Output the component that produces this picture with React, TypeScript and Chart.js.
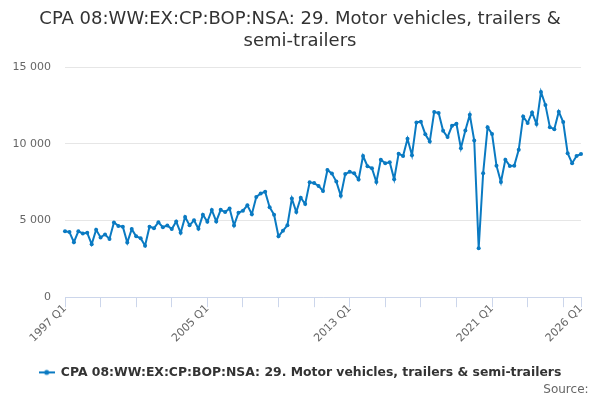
import { useEffect, useRef } from 'react';
import Chart from 'chart.js/auto';

// quarterly categories, 1997 Q1 .. 2026 Q1
const firstYear = 1997;
const quarterCount = 117;
const quarters: string[] = [];
for (let i = 0; i < quarterCount; i++) {
  quarters.push(`${firstYear + Math.floor(i / 4)} Q${(i % 4) + 1}`);
}

// values (£ million)
const exportValues = [
  4300, 4250, 3590, 4300, 4160, 4200, 3450, 4400, 3900, 4090,
  3800, 4870, 4650, 4600, 3560, 4440, 3970, 3850, 3360, 4600,
  4500, 4890, 4560, 4680, 4440, 4930, 4200, 5230, 4690, 5020,
  4460, 5380, 4920, 5690, 4940, 5700, 5550, 5790, 4680, 5510,
  5640, 5990, 5410, 6530, 6770, 6870, 5870, 5380, 3970, 4340,
  4690, 6430, 5560, 6490, 6080, 7490, 7440, 7260, 6920, 8300,
  8060, 7540, 6620, 8030, 8180, 8080, 7670, 9210, 8540, 8410,
  7510, 8970, 8740, 8800, 7690, 9360, 9210, 10330, 9260, 11400,
  11450, 10630, 10150, 12080, 12010, 10850, 10440, 11180, 11310, 9720,
  10870, 11900, 10220, 3200, 8080, 11080, 10650, 8580, 7510, 8970,
  8560, 8580, 9610, 11790, 11360, 12050, 11290, 13390, 12540, 11090,
  10960, 12100, 11420, 9390, 8740, 9210, 9340,
];

const labelledQuarters = ['1997 Q1', '2005 Q1', '2013 Q1', '2021 Q1', '2026 Q1'];
const yTicks = [0, 5000, 10000, 15000];

const seriesName = 'CPA 08:WW:EX:CP:BOP:NSA: 29. Motor vehicles, trailers & semi-trailers';
const titleLines = ['CPA 08:WW:EX:CP:BOP:NSA: 29. Motor vehicles, trailers &', 'semi-trailers'];

const blue = '#0a7ac2';

function legendSymbol() {
  const c = document.createElement('canvas');
  c.width = 16;
  c.height = 8;
  const g = c.getContext('2d');
  if (g) {
    g.strokeStyle = blue;
    g.lineWidth = 2;
    g.beginPath();
    g.moveTo(0, 4);
    g.lineTo(16, 4);
    g.stroke();
    g.fillStyle = blue;
    g.beginPath();
    g.arc(8, 4, 2.5, 0, Math.PI * 2);
    g.fill();
  }
  return c;
}

const spaced = (v: number) => String(v).replace(/\B(?=(\d{3})+(?!\d))/g, ' ');

export default function App() {
  const canvasRef = useRef<HTMLCanvasElement | null>(null);

  useEffect(() => {
    if (!canvasRef.current) return;
    Chart.defaults.font.family = '"DejaVu Sans", sans-serif';

    const chart = new Chart(canvasRef.current, {
      type: 'line',
      data: {
        labels: quarters,
        datasets: [
          {
            label: seriesName,
            data: exportValues,
            borderColor: blue,
            backgroundColor: blue,
            borderWidth: 2,
            pointRadius: 2,
            pointBorderWidth: 0,
            pointBackgroundColor: blue,
            tension: 0,
            fill: false,
          },
        ],
      },
      options: {
        responsive: false,
        animation: false,
        layout: { padding: 0 },
        plugins: {
          tooltip: { enabled: false },
          title: {
            display: true,
            text: titleLines,
            color: '#333333',
            font: { size: 18, weight: 'normal', lineHeight: 1.2 },
            padding: { top: 9, bottom: 15 },
          },
          subtitle: {
            display: true,
            position: 'bottom',
            align: 'end',
            // trailing no-break spaces keep it off the right edge
            text: 'Source:\u00a0\u00a0\u00a0',
            color: '#666666',
            font: { size: 12, weight: 'normal', lineHeight: 1.2 },
            padding: { top: -6, bottom: 3 },
          },
          legend: {
            position: 'bottom',
            labels: {
              usePointStyle: true,
              pointStyle: legendSymbol(),
              pointStyleWidth: 16,
              padding: 1,
              color: '#333333',
              font: { size: 12.4, weight: 'bold', lineHeight: 1.2 },
            },
          },
        },
        scales: {
          x: {
            type: 'category',
            offset: false,
            grid: {
              drawOnChartArea: false,
              drawTicks: true,
              tickLength: 10,
              color: '#ccd6eb',
            },
            border: { display: true, color: '#ccd6eb', width: 1 },
            afterBuildTicks: (scale: any) => {
              scale.ticks = scale.ticks.filter(
                (t: any) => t.value % 8 === 0 || t.value === quarters.length - 1,
              );
            },
            afterFit: (scale: any) => {
              scale.height = 68;
            },
            ticks: {
              autoSkip: false,
              maxRotation: 45,
              minRotation: 45,
              padding: -5,
              color: '#666666',
              font: { size: 11 },
              callback: function (this: any, value: any) {
                const lbl = quarters[value as number];
                return labelledQuarters.includes(lbl) ? lbl : '';
              },
            },
          },
          y: {
            min: 0,
            max: 15000,
            grid: { color: '#e6e6e6', drawTicks: false },
            border: { display: false },
            afterBuildTicks: (scale: any) => {
              scale.ticks = yTicks.map((v) => ({ value: v }));
            },
            afterFit: (scale: any) => {
              scale.width = 65;
            },
            ticks: {
              padding: 14,
              color: '#666666',
              font: { size: 11 },
              callback: (v: any) => spaced(Number(v)),
            },
          },
          // empty right-hand strip so the plot ends where the reference does
          spacer: {
            type: 'linear',
            position: 'right',
            grid: { display: false },
            border: { display: false },
            ticks: { display: false },
            afterFit: (scale: any) => {
              scale.width = 19;
            },
          },
        },
      },
    });

    return () => chart.destroy();
  }, []);

  return (
    <div style={{ position: 'absolute', left: 0, top: 0, width: 600, height: 400 }}>
      <canvas ref={canvasRef} width={600} height={400} style={{ display: 'block' }} />
    </div>
  );
}
